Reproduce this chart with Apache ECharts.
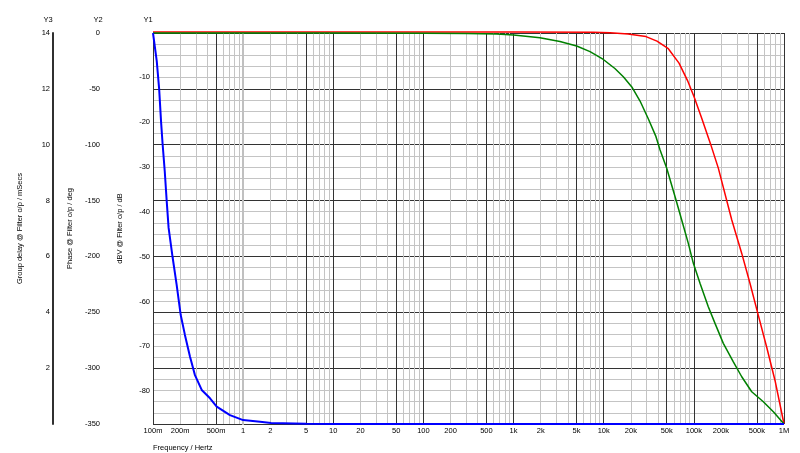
<!DOCTYPE html>
<html><head><meta charset="utf-8">
<script src="https://cdn.jsdelivr.net/npm/echarts@6/dist/echarts.min.js"></script>
<style>html,body{margin:0;padding:0;background:#fff}#c{width:800px;height:453px}</style>
</head><body><div id="c"></div>
<script>
const FONT = "'Liberation Sans', Arial, sans-serif";

// x-axis tick labels (frequency, Hz)
const xTickFreqs = [0.1,0.2,0.5,1,2,5,10,20,50,100,200,500,1e3,2e3,5e3,1e4,2e4,5e4,1e5,2e5,5e5,1e6];
const xTickLabels = ['100m','200m','500m','1','2','5','10','20','50','100','200','500','1k','2k','5k','10k','20k','50k','100k','200k','500k','1M'];
const majorGridFreqs = [0.1,0.5,1,5,10,50,100,500,1e3,5e3,1e4,5e4,1e5,5e5,1e6];
const decades = [0.1,1,10,100,1e3,1e4,1e5];
const minorMultipliers = [2,3,4,6,7,8,9];
const y1Ticks = [-10,-20,-30,-40,-50,-60,-70,-80];

// Blue: group delay (mSecs) on Y3
const blueFreq  = [0.1,0.11,0.117,0.123,0.128,0.135,0.142,0.149,0.165,0.183,0.203,0.226,0.257,0.292,0.347,0.429,0.509,0.714,1.0,1.54,2.04,5,10,100,1e3,1e4,1e5,1e6];
const blueDelay = [14.0,13.0,12.0,10.8,10.0,9.05,7.97,7.02,5.97,4.98,3.90,3.19,2.42,1.75,1.22,0.92,0.62,0.32,0.14,0.08,0.036,0.01,0,0,0,0,0,0];

// Green: phase (deg) on Y2
const greenFreq  = [0.1,10,100,300,650,1000,1960,3270,5010,7050,9900,13300,16500,20500,25300,31300,38000,42200,50000,63400,73300,86800,98700,117000,144600,171700,212200,274200,339800,438500,590000,762000,1e6];
const greenPhase = [0,-0.05,-0.2,-0.5,-1.0,-1.8,-4.2,-7.6,-11.6,-16.7,-23.7,-31.8,-39.1,-48.3,-60.9,-77.0,-92.8,-104.7,-121.1,-149.5,-167.4,-188.3,-206.2,-224.1,-245.0,-259.9,-277.8,-294.3,-307.7,-321.1,-330.1,-339.1,-350];

// Red: gain (dB) on Y1
const redFreq = [0.1,1000,7600,11750,18600,29450,39000,52100,68450,85100,100500,121700,153100,186800,263000,339800,420000,519000,643000,795000,1e6];
const redGain = [0,0,-0.02,-0.15,-0.4,-1.0,-2.0,-3.7,-6.9,-10.8,-14.4,-19.1,-24.9,-30.3,-41.8,-49.3,-56.0,-63.1,-70.2,-77.6,-87.3];

const lg = f => Math.round(Math.log10(f) * 1e9) / 1e9;
const pairs = (xs, ys) => xs.map((f, i) => [lg(f), ys[i]]);
const minorGridFreqs = [];
decades.forEach(d => minorMultipliers.forEach(m => minorGridFreqs.push(d * m)));

const txt = {fontFamily: FONT, fontSize: 7.5, color: '#000'};
const xFmt = v => { const i = xTickFreqs.findIndex(f => Math.abs(lg(f) - v) < 1e-6); return i >= 0 ? xTickLabels[i] : ''; };

function nameAxis(offset, min, max, name) {
  return {type:'value', position:'left', offset, min, max,
    axisLine:{show:false}, axisTick:{show:false}, axisLabel:{show:false}, splitLine:{show:false},
    name, nameLocation:'end', nameGap:9,
    nameTextStyle:Object.assign({}, txt, {padding:[0,10,0,0]})};
}

const chart = echarts.init(document.getElementById('c'), null, {renderer:'canvas'});
chart.setOption({
  animation:false,
  backgroundColor:'#fff',
  title:{text:'Frequency / Hertz', left:148, top:439,
    textStyle:{fontFamily:FONT, fontSize:7.5, fontWeight:'normal', color:'#000'}},
  grid:{left:153, right:16, top:33, bottom:29, outerBoundsMode:'none'},
  xAxis:[
    {type:'value', position:'bottom', min:-1, max:6, interval:1,
     axisLine:{show:false},
     axisTick:{show:false, customValues: majorGridFreqs.map(lg)},
     axisLabel:Object.assign({}, txt, {customValues: xTickFreqs.map(lg), formatter:xFmt, margin:3}),
     splitLine:{show:true, lineStyle:{color:'#333333', width:1}}},
    {type:'value', position:'top', min:-1, max:6, interval:1,
     axisLine:{show:false},
     axisTick:{show:false, customValues: minorGridFreqs.map(lg)},
     axisLabel:{show:false},
     splitLine:{show:true, lineStyle:{color:'#c4c4c4', width:1}}}
  ],
  yAxis:[
    {type:'value', position:'left', offset:0, min:-87.3, max:-0.2,
     axisLine:{show:true, lineStyle:{color:'#c0c0c0', width:2}},
     axisTick:{show:false, customValues:y1Ticks},
     axisLabel:Object.assign({}, txt, {customValues:y1Ticks, margin:3}),
     splitLine:{show:false},
     name:'dBV @ Filter o/p / dB', nameLocation:'middle', nameGap:29, nameRotate:90, nameTextStyle:txt},
    {type:'value', position:'left', offset:50, min:-350, max:0, interval:50,
     axisLine:{show:true, lineStyle:{color:'#c0c0c0', width:2}},
     axisTick:{show:false},
     axisLabel:Object.assign({}, txt, {margin:3}),
     splitLine:{show:true, lineStyle:{color:'#333333', width:1}},
     minorTick:{show:false, splitNumber:5},
     minorSplitLine:{show:true, lineStyle:{color:'#c4c4c4', width:1}},
     name:'Phase @ Filter o/p / deg', nameLocation:'middle', nameGap:29, nameRotate:90, nameTextStyle:txt},
    {type:'value', position:'left', offset:100, min:0, max:14, interval:2,
     axisLine:{show:true, lineStyle:{color:'#303030', width:2}},
     axisTick:{show:false},
     axisLabel:Object.assign({}, txt, {margin:3, showMinLabel:false}),
     splitLine:{show:false},
     name:'Group delay @ Filter o/p / mSecs', nameLocation:'middle', nameGap:29, nameRotate:90, nameTextStyle:txt},
    nameAxis(0, -87.3, -0.2, 'Y1'),
    nameAxis(50, -350, 0, 'Y2'),
    nameAxis(100, 0, 14, 'Y3')
  ],
  series:[
    {name:'dBV', type:'line', xAxisIndex:0, yAxisIndex:0, data:pairs(redFreq, redGain),
     showSymbol:false, clip:false, z:3, lineStyle:{color:'#ff0000', width:1.5}, itemStyle:{color:'#ff0000'}},
    {name:'Phase', type:'line', xAxisIndex:0, yAxisIndex:1, data:pairs(greenFreq, greenPhase),
     showSymbol:false, clip:false, z:4, lineStyle:{color:'#008000', width:1.5}, itemStyle:{color:'#008000'}},
    {name:'Group delay', type:'line', xAxisIndex:0, yAxisIndex:2, data:pairs(blueFreq, blueDelay),
     showSymbol:false, clip:false, z:5, lineStyle:{color:'#0000ff', width:2}, itemStyle:{color:'#0000ff'}}
  ]
});
</script></body></html>
